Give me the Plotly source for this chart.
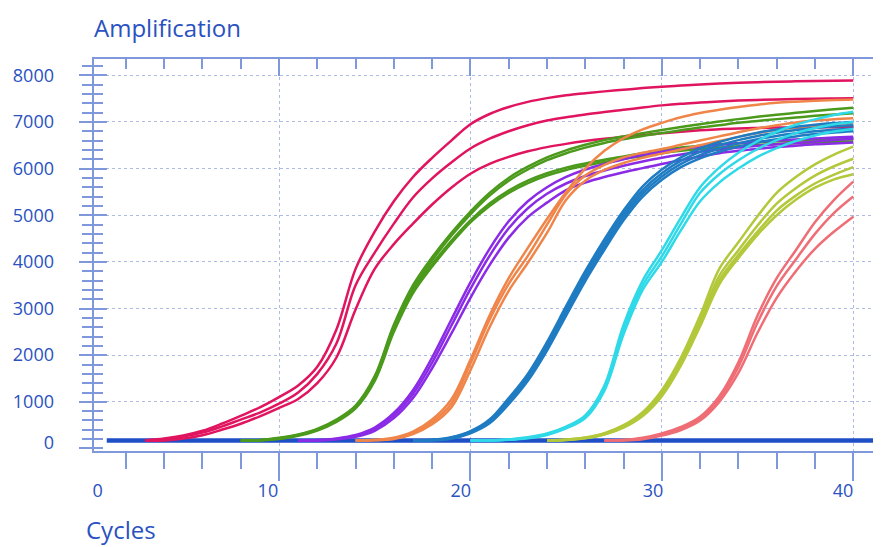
import plotly.graph_objects as go

# ---------------- data ----------------
x_tick_text = ["0", "10", "20", "30", "40"]
y_tick_values = [0, 1000, 2000, 3000, 4000, 5000, 6000, 7000, 8000]
y_tick_text = [str(v) for v in y_tick_values]

baseline_cycles = [1, 41.1]
baseline_values = [170, 170]

crimson_cycles = list(range(3, 41))
crimson_a = [175, 215, 280, 380, 530, 700, 880, 1100, 1350, 1750, 2550, 3850, 4650, 5300, 5820, 6230, 6600, 6950, 7170, 7320, 7430, 7510, 7570, 7615, 7655, 7690, 7725, 7755, 7780, 7805, 7825, 7840, 7852, 7862, 7870, 7877, 7883, 7888]
crimson_b = [170, 200, 255, 340, 470, 620, 770, 960, 1200, 1600, 2250, 3500, 4200, 4820, 5380, 5790, 6130, 6430, 6640, 6800, 6930, 7030, 7100, 7160, 7215, 7260, 7310, 7355, 7390, 7415, 7440, 7458, 7472, 7483, 7492, 7499, 7504, 7508]
crimson_c = [170, 172, 215, 285, 400, 530, 690, 870, 1060, 1400, 1950, 2980, 3850, 4380, 4820, 5230, 5590, 5890, 6100, 6250, 6370, 6460, 6530, 6590, 6640, 6680, 6720, 6755, 6790, 6820, 6845, 6860, 6870, 6878, 6883, 6886, 6888, 6890]

green_cycles = list(range(8, 41))
green_a = [170, 180, 230, 300, 420, 620, 920, 1550, 2650, 3500, 4100, 4620, 5080, 5480, 5800, 6040, 6240, 6390, 6510, 6610, 6690, 6760, 6825, 6890, 6950, 7010, 7060, 7110, 7155, 7195, 7235, 7270, 7305]
green_b = [170, 175, 215, 285, 400, 590, 880, 1480, 2560, 3420, 4030, 4560, 5020, 5420, 5740, 5980, 6180, 6330, 6450, 6550, 6630, 6700, 6760, 6820, 6880, 6930, 6980, 7020, 7060, 7095, 7130, 7160, 7185]
green_c = [170, 178, 220, 290, 410, 600, 900, 1520, 2600, 3400, 3950, 4450, 4890, 5250, 5530, 5740, 5900, 6020, 6110, 6190, 6260, 6330, 6400, 6450, 6490, 6520, 6545, 6565, 6585, 6600, 6612, 6622, 6630]
green_d = [170, 175, 205, 270, 385, 570, 860, 1450, 2500, 3330, 3900, 4400, 4850, 5200, 5480, 5690, 5850, 5970, 6060, 6140, 6210, 6270, 6330, 6380, 6420, 6450, 6480, 6505, 6525, 6545, 6560, 6570, 6580]

purple_cycles = list(range(11, 41))
purple_a = [170, 180, 215, 290, 450, 760, 1250, 1950, 2760, 3560, 4280, 4870, 5300, 5600, 5820, 5980, 6100, 6200, 6290, 6360, 6420, 6470, 6510, 6545, 6575, 6600, 6625, 6645, 6665, 6680]
purple_b = [170, 175, 205, 270, 420, 710, 1170, 1840, 2630, 3420, 4130, 4720, 5150, 5460, 5680, 5840, 5960, 6060, 6150, 6230, 6300, 6360, 6410, 6450, 6490, 6520, 6550, 6580, 6610, 6640]
purple_c = [170, 170, 195, 250, 380, 650, 1080, 1720, 2460, 3230, 3930, 4520, 4960, 5270, 5540, 5700, 5820, 5920, 6010, 6100, 6180, 6260, 6330, 6380, 6420, 6460, 6490, 6520, 6540, 6560]

orange_cycles = list(range(14, 41))
orange_a = [170, 185, 230, 360, 620, 1050, 1900, 2850, 3650, 4300, 4920, 5500, 6000, 6380, 6650, 6840, 6980, 7100, 7190, 7260, 7320, 7370, 7410, 7435, 7455, 7470, 7480]
orange_b = [170, 180, 220, 340, 570, 960, 1820, 2760, 3530, 4130, 4800, 5450, 5850, 6080, 6240, 6340, 6420, 6510, 6600, 6690, 6780, 6860, 6930, 6990, 7030, 7060, 7080]
orange_c = [170, 175, 205, 310, 520, 880, 1680, 2600, 3380, 3980, 4620, 5330, 5740, 5970, 6120, 6230, 6320, 6410, 6500, 6590, 6680, 6760, 6830, 6880, 6920, 6950, 6970]

blue_cycles = list(range(17, 41))
blue_a = [170, 185, 240, 370, 620, 1080, 1600, 2280, 3050, 3800, 4480, 5100, 5620, 5980, 6240, 6430, 6570, 6680, 6770, 6840, 6895, 6940, 6975, 7000]
blue_b = [170, 180, 230, 355, 590, 1030, 1550, 2220, 2980, 3730, 4400, 5030, 5540, 5900, 6170, 6360, 6500, 6610, 6700, 6770, 6825, 6870, 6905, 6930]
blue_c = [170, 178, 220, 340, 565, 990, 1500, 2160, 2920, 3660, 4330, 4960, 5470, 5830, 6100, 6290, 6430, 6540, 6630, 6700, 6755, 6800, 6835, 6860]
blue_d = [170, 175, 210, 325, 540, 950, 1450, 2100, 2850, 3590, 4260, 4890, 5400, 5760, 6030, 6220, 6360, 6470, 6560, 6630, 6690, 6740, 6775, 6800]

cyan_cycles = list(range(20, 41))
cyan_a = [170, 175, 195, 240, 320, 470, 710, 1350, 2650, 3600, 4250, 4950, 5600, 6020, 6340, 6590, 6790, 6940, 7055, 7150, 7220]
cyan_b = [170, 172, 190, 230, 305, 450, 680, 1300, 2560, 3500, 4120, 4820, 5480, 5880, 6180, 6420, 6610, 6760, 6870, 6950, 7000]
cyan_c = [170, 170, 185, 220, 290, 430, 650, 1240, 2450, 3400, 4000, 4680, 5300, 5700, 6000, 6250, 6440, 6590, 6710, 6795, 6850]

lime_cycles = list(range(24, 41))
lime_a = [170, 190, 235, 330, 500, 780, 1250, 1950, 2850, 3850, 4420, 4980, 5480, 5820, 6090, 6300, 6470]
lime_b = [170, 185, 228, 315, 475, 740, 1190, 1870, 2750, 3700, 4250, 4780, 5250, 5580, 5850, 6050, 6210]
lime_c = [170, 182, 222, 305, 460, 715, 1150, 1820, 2680, 3600, 4150, 4650, 5100, 5420, 5680, 5870, 6030]
lime_d = [170, 180, 218, 298, 445, 695, 1120, 1780, 2620, 3520, 4080, 4580, 5000, 5330, 5590, 5770, 5880]

salmon_cycles = list(range(27, 41))
salmon_a = [170, 185, 230, 320, 460, 680, 1120, 1850, 2850, 3650, 4250, 4850, 5330, 5720]
salmon_b = [170, 178, 215, 295, 425, 640, 1060, 1750, 2700, 3480, 4050, 4600, 5050, 5400]
salmon_c = [170, 172, 200, 275, 395, 600, 1000, 1620, 2480, 3230, 3800, 4280, 4650, 4970]

# ---------------- styling ----------------
# the page body has an 8 px margin, so the figure is sized to end at the window edge
FIG_W, FIG_H = 873, 539
X_RANGE = [0.334, 41.45]
Y_RANGE = [-54, 8349]
# where the tick labels sit (the picture sets them a little off their ticks)
x_label_pos = [0.52, 9.42, 19.5, 29.54, 39.47]
y_label_pos = [118, 1000, 2000, 3000, 4000, 5000, 6000, 7000, 8000]
AXIS_COLOR = "#7f98dc"
GRID_COLOR = "#aebbe3"
TEXT_COLOR = "#2a52c0"
FONT = "Open Sans"

groups = [
    (crimson_cycles, [crimson_a, crimson_b, crimson_c], "#e0145f"),
    (green_cycles, [green_a, green_b, green_c, green_d], "#4b9a1c"),
    (purple_cycles, [purple_a, purple_b, purple_c], "#8a2be6"),
    (orange_cycles, [orange_a, orange_b, orange_c], "#f0854a"),
    (blue_cycles, [blue_a, blue_b, blue_c, blue_d], "#1f7cc2"),
    (cyan_cycles, [cyan_a, cyan_b, cyan_c], "#2fd9e8"),
    (lime_cycles, [lime_a, lime_b, lime_c, lime_d], "#b3c83a"),
    (salmon_cycles, [salmon_a, salmon_b, salmon_c], "#ef6d75"),
]

fig = go.Figure()

fig.add_trace(go.Scatter(
    x=baseline_cycles, y=baseline_values, mode="lines",
    line=dict(color="#1f4fc6", width=4.5),
    showlegend=False, hoverinfo="skip",
))

for cycles, curves, color in groups:
    for values in curves:
        fig.add_trace(go.Scatter(
            x=cycles, y=values, mode="lines",
            line=dict(color=color, width=2.5, shape="spline", smoothing=1.0),
            showlegend=False,
        ))

# empty helper traces so that the overlay axes are drawn
fig.add_trace(go.Scatter(x=[None], y=[None], xaxis="x2", yaxis="y2",
                         showlegend=False, hoverinfo="skip"))
fig.add_trace(go.Scatter(x=[None], y=[None], xaxis="x3", yaxis="y3",
                         showlegend=False, hoverinfo="skip"))

tick_common = dict(tickcolor=AXIS_COLOR, tickwidth=1.5)

fig.update_layout(
    width=FIG_W, height=FIG_H,
    margin=dict(l=86, r=0, t=51, b=96, autoexpand=False),
    paper_bgcolor="white", plot_bgcolor="white",
    showlegend=False,
    font=dict(family=FONT, color=TEXT_COLOR, size=18),
    xaxis=dict(
        range=X_RANGE, showline=True, linecolor=AXIS_COLOR, linewidth=2,
        ticks="outside", ticklen=28, tickmode="linear", tick0=0, dtick=10,
        showticklabels=False, showgrid=True, gridcolor=GRID_COLOR,
        griddash="dot", gridwidth=1, zeroline=False, automargin=False,
        minor=dict(ticks="outside", ticklen=16, tick0=0, dtick=2,
                   showgrid=False, **tick_common),
        **tick_common,
    ),
    xaxis2=dict(
        overlaying="x", side="top", anchor="y", range=X_RANGE,
        showline=True, linecolor=AXIS_COLOR, linewidth=2,
        ticks="inside", ticklen=17, tickmode="linear", tick0=0, dtick=10,
        showticklabels=False, showgrid=False, zeroline=False, automargin=False,
        minor=dict(ticks="inside", ticklen=10, tick0=0, dtick=2,
                   showgrid=False, **tick_common),
        **tick_common,
    ),
    xaxis3=dict(
        overlaying="x", side="bottom", anchor="y", range=X_RANGE,
        showline=False, ticks="", tickmode="array",
        tickvals=x_label_pos, ticktext=x_tick_text,
        showgrid=False, zeroline=False, ticklabelstandoff=27, automargin=False,
        tickfont=dict(family=FONT, size=18, color=TEXT_COLOR),
    ),
    yaxis=dict(
        range=Y_RANGE, showline=True, linecolor=AXIS_COLOR, linewidth=2,
        ticks="outside", ticklen=13, tickmode="array",
        tickvals=y_tick_values, showticklabels=False,
        showgrid=False, zeroline=False, automargin=False,
        minor=dict(ticks="outside", ticklen=10, tick0=0, dtick=200,
                   showgrid=False, **tick_common),
        **tick_common,
    ),
    yaxis2=dict(
        overlaying="y", side="left", anchor="x", range=Y_RANGE,
        showline=False, ticks="inside", ticklen=13, tickmode="array",
        tickvals=y_tick_values[1:], showticklabels=False, automargin=False,
        showgrid=True, gridcolor=GRID_COLOR, griddash="dot", gridwidth=1,
        zeroline=False,
        minor=dict(ticks="inside", ticklen=9, tick0=0, dtick=200,
                   showgrid=False, **tick_common),
        **tick_common,
    ),
    yaxis3=dict(
        overlaying="y", side="left", anchor="x", range=Y_RANGE,
        showline=False, ticks="", tickmode="array",
        tickvals=y_label_pos, ticktext=y_tick_text,
        showgrid=False, zeroline=False, automargin=False,
        ticklabelstandoff=39,
        tickfont=dict(family=FONT, size=18, color=TEXT_COLOR),
    ),
    annotations=[
        dict(text="Amplification", xref="paper", yref="paper",
             x=-0.0025, y=1.0816, xanchor="left", yanchor="middle",
             showarrow=False, font=dict(family=FONT, size=24, color=TEXT_COLOR)),
        dict(text="Cycles", xref="paper", yref="paper",
             x=-0.0127, y=-0.2015, xanchor="left", yanchor="middle",
             showarrow=False, font=dict(family=FONT, size=24, color=TEXT_COLOR)),
    ],
)

fig.write_html("out.html")
